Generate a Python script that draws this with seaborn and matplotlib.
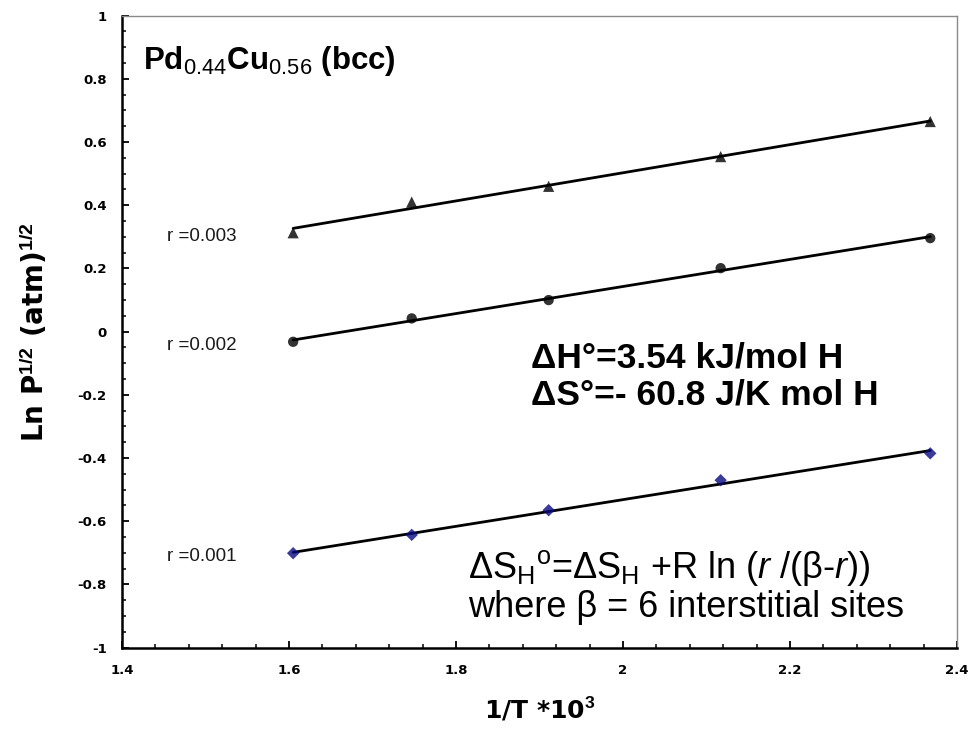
import matplotlib
matplotlib.use("Agg")
import matplotlib.pyplot as plt
from matplotlib.ticker import MultipleLocator, FuncFormatter
import seaborn as sns
import pandas as pd

sns.set_style("ticks")
plt.rcParams["font.family"] = ["Liberation Sans", "DejaVu Sans"]
plt.rcParams["mathtext.fontset"] = "custom"
plt.rcParams["mathtext.rm"] = "Liberation Sans"
plt.rcParams["mathtext.it"] = "Liberation Sans:italic"
plt.rcParams["mathtext.bf"] = "Liberation Sans:bold"
plt.rcParams["text.color"] = "black"
plt.rcParams["axes.labelcolor"] = "black"
plt.rcParams["xtick.color"] = "black"
plt.rcParams["ytick.color"] = "black"

# 1/T * 10^3 for the five measuring temperatures
inv_T = [1.605, 1.747, 1.911, 2.117, 2.368]

# Ln P^1/2 at fixed hydrogen content r
ln_p_r003 = [0.313, 0.410, 0.460, 0.554, 0.665]
ln_p_r002 = [-0.032, 0.042, 0.100, 0.201, 0.296]
ln_p_r001 = [-0.701, -0.643, -0.565, -0.470, -0.385]

r_labels = ["r =0.003", "r =0.002", "r =0.001"]

series = pd.DataFrame({
    "inv_T": inv_T * 3,
    "ln_p": ln_p_r003 + ln_p_r002 + ln_p_r001,
    "r": [r_labels[0]] * 5 + [r_labels[1]] * 5 + [r_labels[2]] * 5,
})

styles = {
    r_labels[0]: dict(marker="^", color="black", s=65),
    r_labels[1]: dict(marker="o", color="black", s=55),
    r_labels[2]: dict(marker="D", color="#0a0a80", s=40),
}

fig = plt.figure(figsize=(9.75, 7.36), dpi=100)
ax = fig.add_axes([0.1251, 0.120, 0.8564, 0.8587])

for label in r_labels:
    sub = series[series["r"] == label]
    st = styles[label]
    sns.regplot(data=sub, x="inv_T", y="ln_p", ax=ax, ci=None,
                marker=st["marker"],
                scatter_kws=dict(color=st["color"], s=st["s"], zorder=3,
                                 edgecolors="none"),
                line_kws=dict(color="black", lw=2.0, zorder=2))
    ax.text(1.454, sub["ln_p"].iloc[0] - 0.012, label, fontsize=13.5,
            color="#1a1a1a", va="center", ha="left")

ax.set_xlim(1.4, 2.4)
ax.set_ylim(-1, 1)
ax.xaxis.set_major_locator(MultipleLocator(0.2))
ax.xaxis.set_minor_locator(MultipleLocator(0.04))
ax.yaxis.set_major_locator(MultipleLocator(0.2))
ax.yaxis.set_minor_locator(MultipleLocator(0.05))

fmt = FuncFormatter(lambda v, p: "0" if abs(v) < 1e-9 else "%g" % round(v, 2))
ax.xaxis.set_major_formatter(fmt)
ax.yaxis.set_major_formatter(fmt)

ax.tick_params(which="both", direction="in", color="black")
ax.tick_params(which="major", length=5, width=1.3, labelsize=9.5, pad=12)
ax.tick_params(axis="y", which="major", pad=11)
ax.tick_params(which="minor", length=3, width=1.1)
for lab in ax.get_xticklabels() + ax.get_yticklabels():
    lab.set_fontweight("bold")
    lab.set_family("DejaVu Sans")

for side in ("left", "bottom"):
    ax.spines[side].set_color("black")
    ax.spines[side].set_linewidth(1.8)
for side in ("top", "right"):
    ax.spines[side].set_color("#8a8a8a")
    ax.spines[side].set_linewidth(1.0)

ax.set_xlabel(r"1/T *10$^{\mathbf{3}}$", fontsize=18, fontweight="bold",
              family="DejaVu Sans", labelpad=13)
ax.set_ylabel(r"Ln P$^{\mathbf{1/2}}$ (atm)$^{\mathbf{1/2}}$", fontsize=20,
              fontweight="bold", family="DejaVu Sans", labelpad=20)

ax.text(0.025, 0.955, r"Pd$_{\mathrm{0.44}}$Cu$_{\mathrm{0.56}}$ (bcc)",
        transform=ax.transAxes, fontsize=22.5, fontweight="bold",
        va="top", ha="left")

ax.text(0.49, 0.4426, "ΔH°=3.54 kJ/mol H", transform=ax.transAxes,
        fontsize=25.5, fontweight="bold", va="baseline", ha="left")
ax.text(0.49, 0.384, "ΔS°=- 60.8 J/K mol H", transform=ax.transAxes,
        fontsize=25.5, fontweight="bold", va="baseline", ha="left")

ax.text(0.415, 0.111, r"ΔS$_{\mathrm{H}}$$^{\mathrm{o}}$=ΔS$_{\mathrm{H}}$ +R ln ($\it{r}$ /(β-$\it{r}$))",
        transform=ax.transAxes, fontsize=26, va="baseline", ha="left")
ax.text(0.415, 0.0486, "where β = 6 interstitial sites", transform=ax.transAxes,
        fontsize=26, va="baseline", ha="left")

fig.savefig("out.png", dpi=100, facecolor="white")
